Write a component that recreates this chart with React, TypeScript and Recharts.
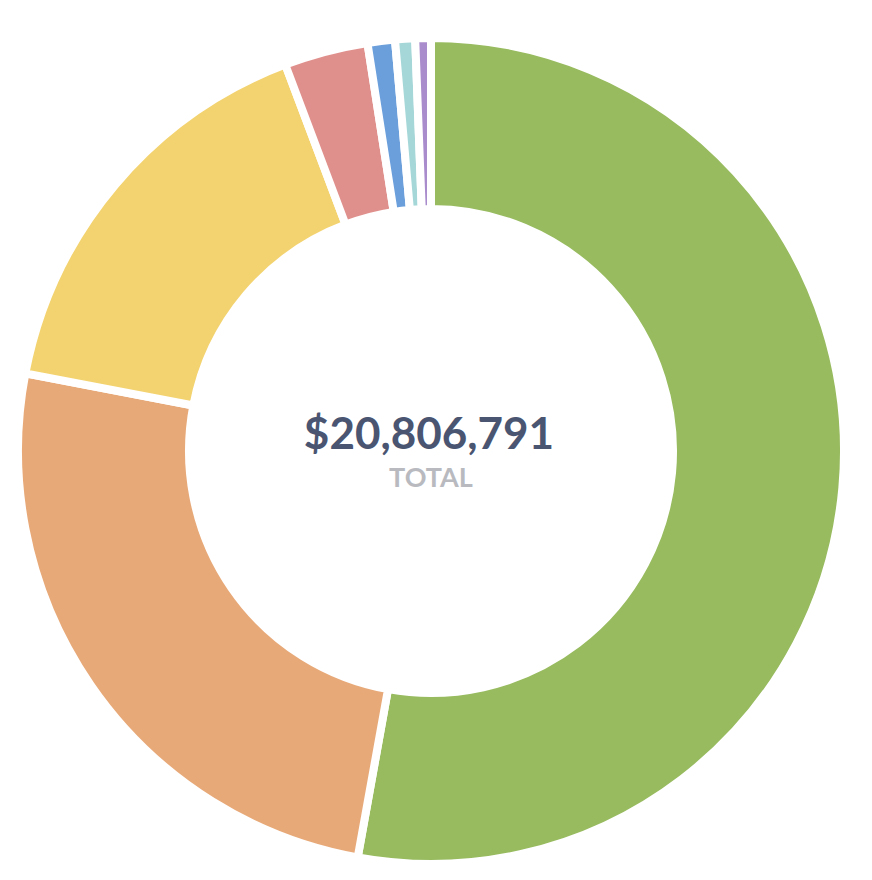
import { PieChart, Pie, Cell } from 'recharts';

const names = ['Green', 'Orange', 'Yellow', 'Pink', 'Blue', 'Teal', 'Purple'];
const values = [10994308, 5237069, 3381104, 682463, 222633, 162293, 126921];
const colors = ['#97bb5e', '#e8a978', '#f3d370', '#e0908c', '#6a9fdc', '#a6d7d8', '#a98ccc'];

const total = values.reduce((a, b) => a + b, 0);
const data = names.map((name, i) => ({ name, value: values[i] }));

const CX = 431;
const CY = 451;

export default function App() {
  return (
    <div style={{ position: 'absolute', left: 0, top: 0, width: 872, height: 880, background: '#fff' }}>
      <PieChart width={872} height={880} margin={{ top: 0, right: 0, bottom: 0, left: 0 }}>
        <Pie
          data={data}
          dataKey="value"
          nameKey="name"
          cx={CX}
          cy={CY}
          innerRadius={242}
          outerRadius={413}
          startAngle={90}
          endAngle={-270}
          stroke="#fff"
          strokeWidth={8}
          isAnimationActive={false}
        >
          {data.map((d, i) => (
            <Cell key={d.name} fill={colors[i]} />
          ))}
        </Pie>
      </PieChart>
      <svg
        width={872}
        height={880}
        style={{ position: 'absolute', left: 0, top: 0, pointerEvents: 'none' }}
      >
        <text
          x={CX - 2}
          y={CY - 2}
          textAnchor="middle"
          fontFamily="Lato, sans-serif"
          fontWeight={700}
          fontSize={44}
          fill="#4a5572"
        >
          ${total.toLocaleString('en-US')}
        </text>
        <text
          x={CX}
          y={CY + 36}
          textAnchor="middle"
          fontFamily="Lato, sans-serif"
          fontWeight={700}
          fontSize={27}
          fill="#b8babf"
        >
          TOTAL
        </text>
      </svg>
    </div>
  );
}
